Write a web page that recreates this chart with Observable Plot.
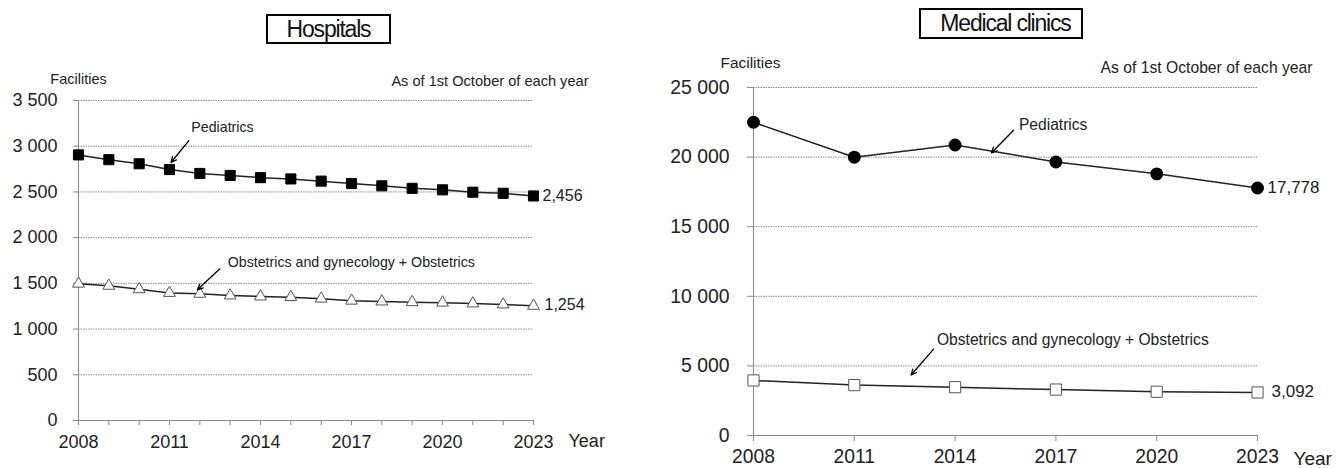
<!DOCTYPE html>
<html>
<head>
<meta charset="utf-8">
<script src="https://cdn.jsdelivr.net/npm/d3@7"></script>
<script src="https://cdn.jsdelivr.net/npm/@observablehq/plot@0.6"></script>
<style>
  body { margin: 0; background: #fff; font-family: "Liberation Sans", Arial, sans-serif; }
  #wrap { position: relative; width: 1337px; height: 468px; overflow: hidden; }
  .title { position: absolute; box-sizing: border-box; border: 2px solid #000; background: #fff;
           font-size: 23px; line-height: 26px; color: #111; text-align: center; white-space: nowrap; letter-spacing: -1.2px; }
  #left, #right { position: absolute; top: 0; }
  #left { left: 0; }
  #right { left: 650px; }
</style>
</head>
<body>
<div id="wrap">
  <div id="left"></div>
  <div id="right"></div>
  <div class="title" style="left:266px; top:14px; width:125px; height:30px;">Hospitals</div>
  <div class="title" style="left:919px; top:8px; width:164px; height:31px; padding-left:9px;">Medical clinics</div>
</div>
<script>
// ---------- data ----------
const hospitalYears = [2008, 2009, 2010, 2011, 2012, 2013, 2014, 2015, 2016, 2017, 2018, 2019, 2020, 2021, 2022, 2023];
const hospitalPediatrics = [2905, 2853, 2808, 2745, 2702, 2680, 2656, 2642, 2618, 2592, 2567, 2539, 2523, 2497, 2485, 2456];
const hospitalObstetrics = [1496, 1473, 1435, 1395, 1385, 1367, 1356, 1349, 1332, 1310, 1301, 1294, 1289, 1280, 1269, 1254];

const clinicYears = [2008, 2011, 2014, 2017, 2020, 2023];
const clinicPediatrics = [22503, 19994, 20872, 19647, 18798, 17778];
const clinicObstetrics = [3955, 3620, 3470, 3300, 3143, 3092];

const hospitalYTicks = [0, 500, 1000, 1500, 2000, 2500, 3000, 3500];
const clinicYTicks = [0, 5000, 10000, 15000, 20000, 25000];
const xLabelYears = [2008, 2011, 2014, 2017, 2020, 2023];

// annotation anchors (data space)
const hospitalLabels = [
  {x: 2011.72, y: 3200, text: "Pediatrics"},
  {x: 2012.92, y: 1731, text: "Obstetrics and gynecology + Obstetrics"}
];
const hospitalArrows = [
  {x1: 2011.64, y1: 3062, x2: 2011.05, y2: 2822},
  {x1: 2012.66, y1: 1659, x2: 2011.92, y2: 1430}
];
const clinicLabels = [
  {x: 2015.9, y: 22278, text: "Pediatrics"},
  {x: 2013.46, y: 6877, text: "Obstetrics and gynecology + Obstetrics"}
];
const clinicArrows = [
  {x1: 2015.74, y1: 21930, x2: 2015.08, y2: 20300},
  {x1: 2013.36, y1: 6210, x2: 2012.69, y2: 4348}
];

const font = "Liberation Sans, Arial, sans-serif";
const spaceFmt = d => d3.format(",")(d).replace(/,/g, " ");
const commaFmt = d3.format(",");

const hPed = hospitalYears.map((year, i) => ({year, value: hospitalPediatrics[i]}));
const hObs = hospitalYears.map((year, i) => ({year, value: hospitalObstetrics[i]}));
const cPed = clinicYears.map((year, i) => ({year, value: clinicPediatrics[i]}));
const cObs = clinicYears.map((year, i) => ({year, value: clinicObstetrics[i]}));

// ---------- Hospitals ----------
const left = Plot.plot({
  width: 640, height: 468,
  marginLeft: 78, marginRight: 107, marginTop: 100, marginBottom: 48,
  style: {fontFamily: font, background: "#fff", color: "#222"},
  x: {domain: [2008, 2023]},
  y: {domain: [0, 3500]},
  marks: [
    Plot.gridY({ticks: hospitalYTicks.filter(d => d > 0), stroke: "#8a8a8a", strokeOpacity: 1, strokeDasharray: "1.5,1"}),
    Plot.ruleY([0], {stroke: "#888", strokeWidth: 1}),
    Plot.ruleX([2008], {stroke: "#888", strokeWidth: 1}),
    Plot.axisY({ticks: hospitalYTicks, tickFormat: spaceFmt, tickSize: 5, tickPadding: 16, fontSize: 18, stroke: "#888", label: null}),
    Plot.axisX({ticks: hospitalYears, tickFormat: d => xLabelYears.includes(d) ? String(d) : "", tickSize: 5, tickPadding: 10, fontSize: 18, stroke: "#888", label: null}),
    Plot.line(hPed, {x: "year", y: "value", stroke: "#222", strokeWidth: 1.5}),
    Plot.dot(hPed, {x: "year", y: "value", symbol: "square", r: 5.7, fill: "#000", stroke: "#000", strokeWidth: 1}),
    Plot.line(hObs, {x: "year", y: "value", stroke: "#222", strokeWidth: 1.5}),
    Plot.dot(hObs, {x: "year", y: "value", symbol: "triangle", r: 4.4, fill: "#fff", stroke: "#555", strokeWidth: 1}),
    Plot.text([hPed[hPed.length - 1]], {x: "year", y: "value", text: d => commaFmt(d.value), textAnchor: "start", dx: 9, fontSize: 16, fill: "#222"}),
    Plot.text([hObs[hObs.length - 1]], {x: "year", y: "value", text: d => commaFmt(d.value), textAnchor: "start", dx: 11, dy: -1, fontSize: 16, fill: "#222"}),
    Plot.text(hospitalLabels, {x: "x", y: "y", text: "text", textAnchor: "start", fontSize: 14.2, fill: "#222"}),
    Plot.arrow(hospitalArrows, {x1: "x1", y1: "y1", x2: "x2", y2: "y2", stroke: "#000", strokeWidth: 1.3, headLength: 7, headAngle: 50}),
    Plot.text(["Facilities"], {frameAnchor: "top-left", lineAnchor: "middle", dy: -21, textAnchor: "middle", fontSize: 14.5, fill: "#222"}),
    Plot.text(["As of 1st October of each year"], {frameAnchor: "top-right", lineAnchor: "middle", dx: 55, dy: -19, textAnchor: "end", fontSize: 14.6, fill: "#222"}),
    Plot.text(["Year"], {frameAnchor: "bottom-right", lineAnchor: "middle", dx: 35, dy: 21, textAnchor: "start", fontSize: 18, fill: "#222"})
  ]
});
document.getElementById("left").appendChild(left);

// ---------- Medical clinics ----------
const right = Plot.plot({
  width: 687, height: 468,
  marginLeft: 103, marginRight: 80, marginTop: 87, marginBottom: 33,
  style: {fontFamily: font, background: "#fff", color: "#222"},
  x: {domain: [2008, 2023]},
  y: {domain: [0, 25000]},
  marks: [
    Plot.gridY({ticks: clinicYTicks.filter(d => d > 0), stroke: "#8a8a8a", strokeOpacity: 1, strokeDasharray: "1.5,1"}),
    Plot.ruleY([0], {stroke: "#888", strokeWidth: 1}),
    Plot.ruleX([2008], {stroke: "#888", strokeWidth: 1}),
    Plot.axisY({ticks: clinicYTicks, tickFormat: spaceFmt, tickSize: 6, tickPadding: 18, fontSize: 19.4, stroke: "#888", label: null}),
    Plot.axisX({ticks: clinicYears, tickFormat: d => String(d), tickSize: 6, tickPadding: 8, fontSize: 19.3, stroke: "#888", label: null}),
    Plot.line(cPed, {x: "year", y: "value", stroke: "#222", strokeWidth: 1.5}),
    Plot.dot(cPed, {x: "year", y: "value", r: 5.7, fill: "#000", stroke: "#000"}),
    Plot.line(cObs, {x: "year", y: "value", stroke: "#222", strokeWidth: 1.5}),
    Plot.dot(cObs, {x: "year", y: "value", symbol: "square", r: 6.3, fill: "#fff", stroke: "#555", strokeWidth: 1}),
    Plot.text([cPed[cPed.length - 1]], {x: "year", y: "value", text: d => commaFmt(d.value), textAnchor: "start", dx: 10, fontSize: 17, fill: "#222"}),
    Plot.text([cObs[cObs.length - 1]], {x: "year", y: "value", text: d => commaFmt(d.value), textAnchor: "start", dx: 14, dy: -1, fontSize: 17, fill: "#222"}),
    Plot.text(clinicLabels, {x: "x", y: "y", text: "text", textAnchor: "start", fontSize: 15.6, fill: "#222"}),
    Plot.arrow(clinicArrows, {x1: "x1", y1: "y1", x2: "x2", y2: "y2", stroke: "#000", strokeWidth: 1.3, headLength: 7, headAngle: 50}),
    Plot.text(["Facilities"], {frameAnchor: "top-left", lineAnchor: "middle", dx: -3, dy: -24, textAnchor: "middle", fontSize: 15.4, fill: "#222"}),
    Plot.text(["As of 1st October of each year"], {frameAnchor: "top-right", lineAnchor: "middle", dx: 55, dy: -19.5, textAnchor: "end", fontSize: 15.7, fill: "#222"}),
    Plot.text(["Year"], {frameAnchor: "bottom-right", lineAnchor: "middle", dx: 36, dy: 23, textAnchor: "start", fontSize: 19, fill: "#222"})
  ]
});
document.getElementById("right").appendChild(right);
</script>
</body>
</html>
